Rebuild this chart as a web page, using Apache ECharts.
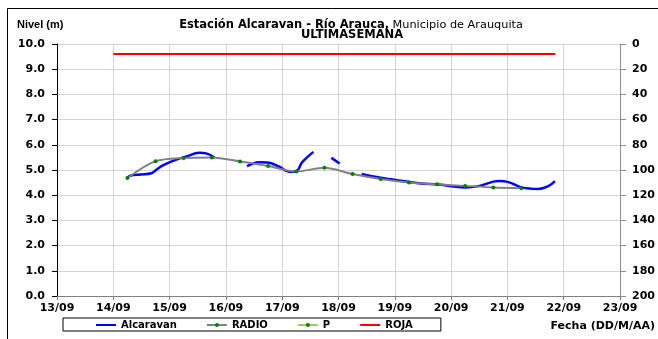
<!DOCTYPE html>
<html>
<head>
<meta charset="utf-8">
<script src="https://cdn.jsdelivr.net/npm/echarts@6/dist/echarts.min.js"></script>
<style>
  html, body { margin: 0; padding: 0; background: #fff; }
  #chart { width: 658px; height: 339px; }
</style>
</head>
<body>
<div id="chart"></div>
<script>
  // dias como numero (dia del mes de septiembre, con fraccion de hora)
  var alcDias = [14.244, 14.30, 14.48, 14.676, 14.77, 14.89, 15.06, 15.30, 15.53, 15.65, 15.796, null,
                 16.375, 16.593, 16.740, 16.947, 17.124, 17.242, 17.359, 17.554, null,
                 17.873, 18.021, null,
                 18.411, 18.747, 18.965, 19.425, 19.779, 20.251, 20.487, 20.841, 21.018, 21.253, 21.549, 21.726, 21.844];
  var alcNivel = [4.68, 4.77, 4.82, 4.87, 5.02, 5.19, 5.36, 5.54, 5.68, 5.66, 5.50, null,
                  5.15, 5.31, 5.30, 5.13, 4.93, 4.94, 5.32, 5.72, null,
                  5.48, 5.26, null,
                  4.84, 4.69, 4.62, 4.47, 4.42, 4.31, 4.36, 4.56, 4.52, 4.31, 4.25, 4.36, 4.56];

  var radioDias = [14.25, 14.75, 15.25, 15.75, 16.25, 16.75, 17.25, 17.75, 18.25, 18.75, 19.25, 19.75, 20.25, 20.75, 21.25];
  var radioNivel = [4.68, 5.35, 5.48, 5.50, 5.34, 5.16, 4.94, 5.09, 4.84, 4.64, 4.50, 4.43, 4.37, 4.31, 4.28];

  var pDias = [];
  var pNivel = [];

  var rojaDias = [14.0, 21.85];
  var rojaNivel = [9.6, 9.6];

  var fechaMin = 13, fechaMax = 23;
  var mes = '09';

  function pares(xs, ys) {
    var out = [];
    for (var i = 0; i < xs.length; i++) {
      if (xs[i] === null) { out.push([null, null]); continue; }
      out.push([xs[i], ys[i]]);
    }
    return out;
  }

  var labelFont = { color: '#000', fontFamily: 'DejaVu Sans', fontWeight: 'bold', fontSize: 11 };

  var option = {
    animation: false,
    backgroundColor: '#fff',
    grid: { left: 57, right: 35, top: 44, bottom: 43 },
    legend: {
      left: 63,
      top: 318,
      orient: 'horizontal',
      data: ['Alcaravan', 'RADIO', 'P', 'ROJA'],
      itemWidth: 20,
      itemHeight: 5,
      itemGap: 29,
      padding: [2, 28, 1, 32],
      borderColor: '#000',
      borderWidth: 1,
      backgroundColor: '#fff',
      textStyle: { color: '#000', fontFamily: 'DejaVu Sans', fontWeight: 'bold', fontSize: 10 }
    },
    xAxis: {
      type: 'value',
      min: fechaMin,
      max: fechaMax,
      interval: 1,
      axisLine: { lineStyle: { color: '#808080', width: 1 } },
      axisTick: { show: true, length: 4, lineStyle: { color: '#808080' } },
      axisLabel: Object.assign({ margin: 7, formatter: function (v) { return v + '/' + mes; } }, labelFont),
      splitLine: { show: true, lineStyle: { color: '#d4d4d4', width: 1 } }
    },
    yAxis: [{
      type: 'value',
      min: 0,
      max: 10,
      interval: 1,
      position: 'left',
      axisLine: { show: true, lineStyle: { color: '#000', width: 1 } },
      axisTick: { show: true, length: 5, lineStyle: { color: '#000' } },
      axisLabel: Object.assign({ margin: 12, formatter: function (v) { return v.toFixed(1); } }, labelFont),
      splitLine: { show: true, lineStyle: { color: '#d4d4d4', width: 1 } }
    }, {
      type: 'value',
      min: 0,
      max: 200,
      interval: 20,
      inverse: true,
      position: 'right',
      axisLine: { show: true, lineStyle: { color: '#8c8c8c', width: 1 } },
      axisTick: { show: true, length: 6, lineStyle: { color: '#8c8c8c' } },
      axisLabel: Object.assign({ margin: 12 }, labelFont),
      splitLine: { show: false }
    }],
    series: [{
      name: 'Alcaravan',
      type: 'line',
      smooth: 0.4,
      connectNulls: false,
      symbol: 'none',
      lineStyle: { color: '#0000ff', width: 2.5 },
      itemStyle: { color: 'rgba(0,0,0,0)' },
      data: pares(alcDias, alcNivel),
      z: 2
    }, {
      name: 'RADIO',
      type: 'line',
      smooth: 0.3,
      symbol: 'circle',
      symbolSize: 4,
      lineStyle: { color: '#808080', width: 2 },
      itemStyle: { color: '#008000' },
      data: pares(radioDias, radioNivel),
      z: 3
    }, {
      name: 'P',
      type: 'line',
      symbol: 'circle',
      symbolSize: 4,
      lineStyle: { color: '#99cc66', width: 2 },
      itemStyle: { color: '#008000' },
      data: pares(pDias, pNivel),
      z: 3
    }, {
      name: 'ROJA',
      type: 'line',
      symbol: 'none',
      lineStyle: { color: '#ff0000', width: 2 },
      itemStyle: { color: 'rgba(0,0,0,0)' },
      data: pares(rojaDias, rojaNivel),
      z: 2
    }],
    graphic: [
      { type: 'line', shape: { x1: 7.5, y1: 8.5, x2: 658, y2: 8.5 }, style: { stroke: '#000', lineWidth: 1 } },
      { type: 'line', shape: { x1: 7.5, y1: 8.5, x2: 7.5, y2: 339 }, style: { stroke: '#000', lineWidth: 1 } },
      {
        type: 'text', x: 17, y: 25,
        style: { text: 'Nivel (m)', fill: '#000', font: 'bold 11px "Liberation Sans"', textAlign: 'left', textVerticalAlign: 'middle' }
      },
      {
        type: 'text', x: 351, y: 25,
        style: {
          text: '{b|Estación Alcaravan - Río Arauca,} {n|Municipio de Arauquita}',
          textAlign: 'center', textVerticalAlign: 'middle',
          rich: {
            b: { fill: '#000', fontFamily: 'DejaVu Sans', fontWeight: 'bold', fontSize: 11.5 },
            n: { fill: '#000', fontFamily: 'DejaVu Sans', fontSize: 11.3 }
          }
        }
      },
      {
        type: 'text', x: 352, y: 35,
        style: { text: 'ULTIMASEMANA', fill: '#000', font: 'bold 11.5px "DejaVu Sans"', textAlign: 'center', textVerticalAlign: 'middle' }
      },
      {
        type: 'text', x: 655, y: 326,
        style: { text: 'Fecha (DD/M/AA)', fill: '#000', font: 'bold 11px "DejaVu Sans"', textAlign: 'right', textVerticalAlign: 'middle' }
      }
    ]
  };

  var chart = echarts.init(document.getElementById('chart'));
  chart.setOption(option);
</script>
</body>
</html>
